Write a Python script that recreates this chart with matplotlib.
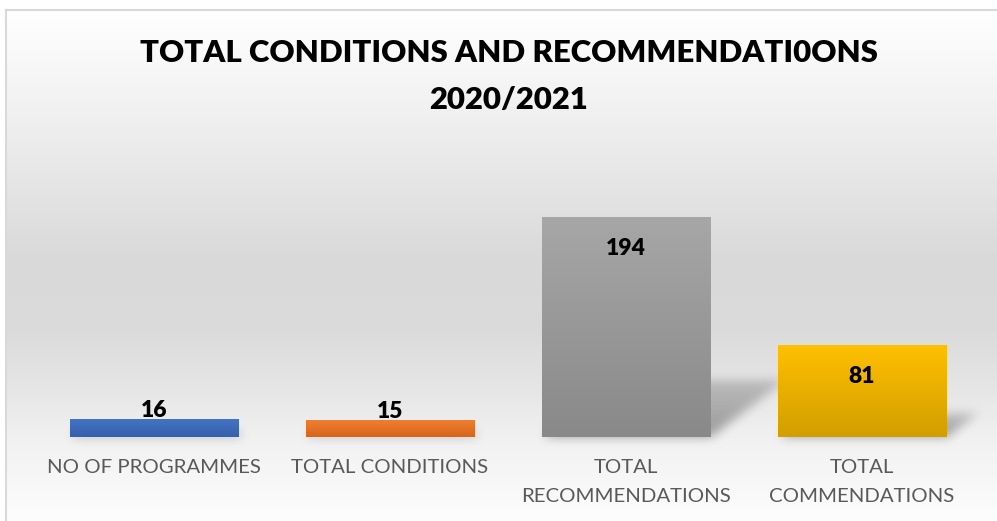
import numpy as np
import matplotlib.pyplot as plt
from matplotlib.colors import LinearSegmentedColormap

categories = ["NO OF PROGRAMMES", "TOTAL CONDITIONS",
              "TOTAL\nRECOMMENDATIONS", "TOTAL\nCOMMENDATIONS"]
values = [16, 15, 194, 81]
top_colors = ["#4674c6", "#ef8034", "#a7a7a7", "#ffc000"]
bottom_colors = ["#3560aa", "#d7651a", "#898989", "#d29e00"]
title_lines = ["TOTAL CONDITIONS AND RECOMMENDATI0ONS", "2020/2021"]

W, H = 997, 521
FONT = "Lato"


def gaussian_blur(a, sigma):
    r = int(3 * sigma)
    k = np.exp(-0.5 * (np.arange(-r, r + 1) / sigma) ** 2)
    k /= k.sum()
    a = np.apply_along_axis(lambda v: np.convolve(v, k, mode="same"), 0, a)
    a = np.apply_along_axis(lambda v: np.convolve(v, k, mode="same"), 1, a)
    return a


fig = plt.figure(figsize=(W / 100, H / 100), dpi=100)

# chart area: soft vertical grey gradient with a thin border on the left/top
bg = fig.add_axes([6 / W, 0, 1 - 6 / W, 1 - 10 / H], zorder=0)
bg_cmap = LinearSegmentedColormap.from_list("bg", [
    (0.0, "#ffffff"), (0.10, "#f8f8f8"), (0.27, "#ebebeb"),
    (0.49, "#d9d9d9"), (0.63, "#dbdbdb"), (0.745, "#e6e6e6"),
    (0.84, "#f1f1f1"), (1.0, "#fdfdfd")])
bg.imshow(np.linspace(0, 1, 512).reshape(-1, 1), cmap=bg_cmap,
          aspect="auto", extent=(0, 1, 0, 1), origin="upper")
bg.set_xticks([])
bg.set_yticks([])
for side in ["right", "bottom"]:
    bg.spines[side].set_visible(False)
for side in ["left", "top"]:
    bg.spines[side].set_color("#d9d9d9")
    bg.spines[side].set_linewidth(1.5)

ax = fig.add_axes([36 / W, 1 - 437 / H, 944 / W, 257 / H], zorder=2)
ax.patch.set_alpha(0)
x = np.arange(len(values))
bars = ax.bar(x, values, width=0.712, color="none", edgecolor="none")

# gradient fill for every bar, clipped to the bar itself
grad = np.linspace(0, 1, 256).reshape(-1, 1)
for p, c_top, c_bot in zip(bars, top_colors, bottom_colors):
    cmap = LinearSegmentedColormap.from_list("bar", [c_bot, c_top])
    im = ax.imshow(grad, cmap=cmap, aspect="auto", origin="lower",
                   extent=(p.get_x(), p.get_x() + p.get_width(), 0, p.get_height()),
                   zorder=3, interpolation="bicubic")
    im.set_clip_path(p)

ax.set_xlim(-0.5, len(values) - 0.5)
ax.set_ylim(0, 226.6)
ax.set_yticks([])
for s in ax.spines.values():
    s.set_visible(False)
ax.set_xticks(x, categories)
ax.tick_params(axis="x", length=0, pad=15.7, labelsize=14.7, labelcolor="#595959")
for lbl in ax.get_xticklabels():
    lbl.set_family(FONT)
    lbl.set_linespacing(1.9)

# perspective floor shadow behind each bar
shadow_ax = fig.add_axes([0, 0, 1, 1], zorder=1)
shadow_ax.set_axis_off()
yy, xx = np.mgrid[0:H, 0:W] + 0.5
shade = np.zeros((H, W))
for p in bars:
    (xl, yb), (xr, yt) = ax.transData.transform(
        [(p.get_x(), 0), (p.get_x() + p.get_width(), p.get_height())])
    h = yt - yb
    depth, lean = 0.26 * h, 0.34 * h
    t = (yy - yb) / depth
    inside = (t >= 0) & (t <= 1) & (xx >= xl + lean * t) & (xx <= xr + lean * t)
    shade = np.maximum(shade, inside * (1 - 0.5 * t))
shade = gaussian_blur(shade, 5) * 0.36
rgba = np.zeros((H, W, 4))
rgba[..., 3] = shade
shadow_ax.imshow(rgba, origin="lower", extent=(0, W, 0, H), aspect="auto")
shadow_ax.set_xlim(0, W)
shadow_ax.set_ylim(0, H)

# data labels: inside the top of tall bars, just above short ones
for p, v in zip(bars, values):
    cx = p.get_x() + p.get_width() / 2
    dy = -27.5 if v > 50 else 1.5
    ax.annotate(str(v), (cx, v), xytext=(0, dy), textcoords="offset points",
                ha="center", va="baseline", fontsize=16.5, fontweight="heavy",
                family=FONT, color="black", zorder=5)

for line, base in zip(title_lines, [62, 109]):
    fig.text(0.51, 1 - base / H, line, ha="center", va="baseline",
             fontsize=22.4, fontweight="heavy", family=FONT)

fig.savefig("out.png", dpi=100)
